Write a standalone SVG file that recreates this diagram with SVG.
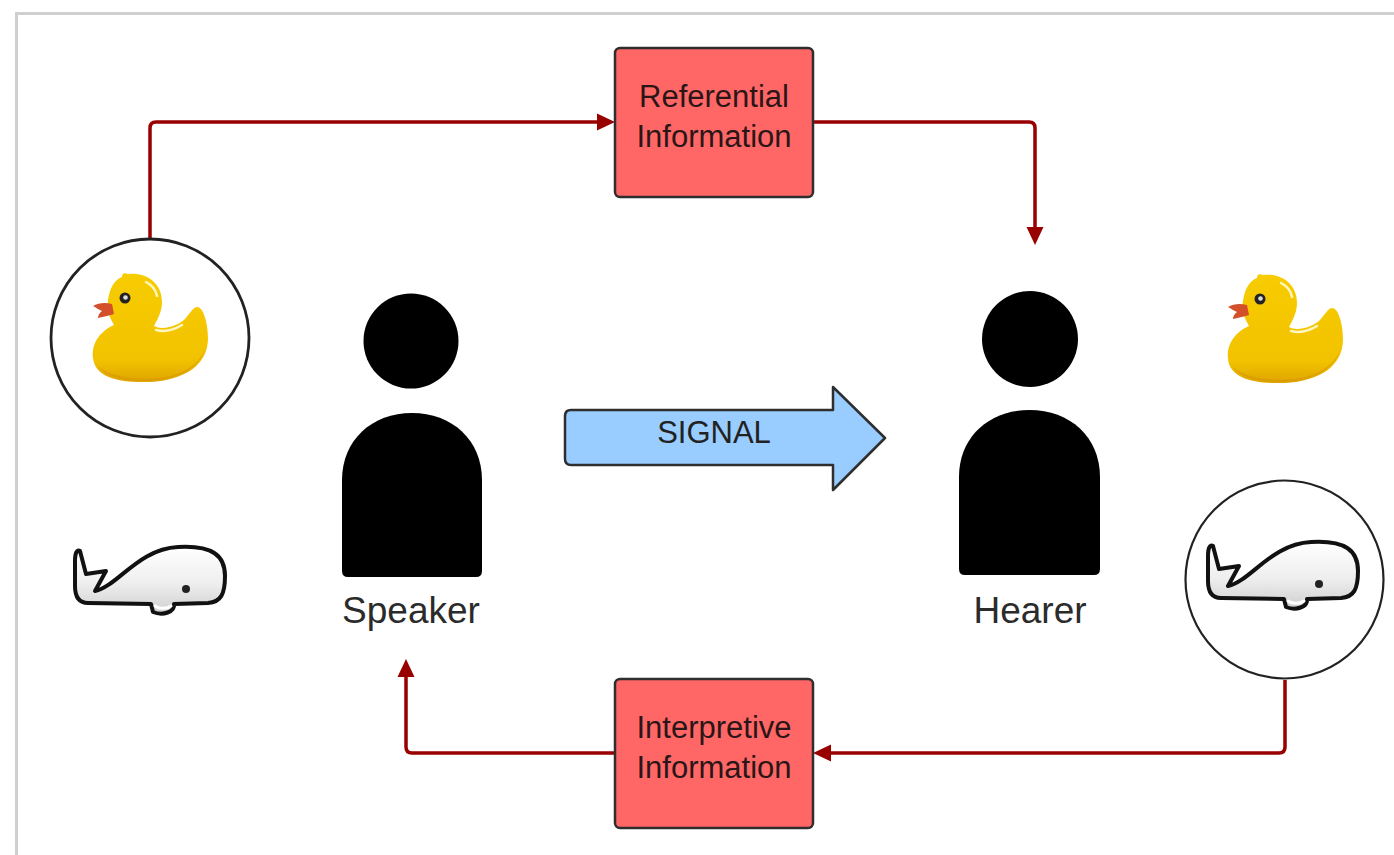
<svg xmlns="http://www.w3.org/2000/svg" width="1394" height="855" viewBox="0 0 1394 855">
  <style>
    .frame { fill: none; stroke: #cfcfcf; stroke-width: 3; }
    .info { fill: #ff6666; stroke: #2e2e2e; stroke-width: 2.5; }
    .info-text { font-family: "Liberation Sans", Arial, sans-serif; font-size: 31px; fill: #2a1616; text-anchor: middle; }
    .label { font-family: "Liberation Sans", Arial, sans-serif; font-size: 37px; fill: #2b2b2b; text-anchor: middle; }
    .signal { fill: #99ccff; stroke: #2e2e2e; stroke-width: 2.5; stroke-linejoin: round; }
    .signal-text { font-family: "Liberation Sans", Arial, sans-serif; font-size: 31px; fill: #222; text-anchor: middle; }
    .ring { fill: #ffffff; stroke: #222; }
    .person { fill: #000; }
    .flow { fill: none; stroke: #990000; stroke-width: 3.5; stroke-linejoin: round; }
  </style>
  <defs>
    <marker id="head" viewBox="0 0 18 18" refX="0" refY="9" markerWidth="18" markerHeight="18" markerUnits="userSpaceOnUse" orient="auto">
      <path d="M0 0.5 L18 9 L0 17.5 Z" fill="#990000"/>
    </marker>
    <linearGradient id="whaleShade" x1="0" y1="0" x2="0" y2="1">
      <stop offset="0" stop-color="#ffffff"/>
      <stop offset="0.55" stop-color="#eeeeee"/>
      <stop offset="1" stop-color="#cfcfcf"/>
    </linearGradient>
    <linearGradient id="duckShade" x1="0" y1="0" x2="0" y2="1">
      <stop offset="0" stop-color="#f7cc00"/>
      <stop offset="0.8" stop-color="#f2c200"/>
      <stop offset="1" stop-color="#dfa400"/>
    </linearGradient>
    <!-- rubber duck, 118 x 113 -->
    <g id="duck">
      <path d="M38 4 C55 2 72 12 72 32 C72 42 67 50 64 56 C70 60 84 58 94 50 C100 44 102 38 107 37 C114 37 118 55 118 68 C118 95 95 110 60 112 C30 113 5 108 3 88 C1 72 12 60 24 55 C20 48 16 40 18 30 C20 16 26 9 32 7 C32 4 34 2 38 4 Z" fill="url(#duckShade)"/>
      <path d="M8 96 C20 108 50 110 70 108 C95 105 112 92 116 76 C112 96 92 109 60 111 C32 112 14 106 8 96 Z" fill="#d99a00" opacity="0.7"/>
      <path d="M56 12 C62 15 66 20 67 26" fill="none" stroke="#fff6c0" stroke-width="2.5" stroke-linecap="round"/>
      <path d="M66 60 C74 62 84 60 92 55" fill="none" stroke="#fff6c0" stroke-width="2.5" stroke-linecap="round"/>
      <path d="M22 34 C15 32 8 33 3 36 C7 38 9 40 12 41 C9 43 8 46 8 48 C14 47 20 45 24 44 Z" fill="#d4502a"/>
      <circle cx="35" cy="28" r="5.5" fill="#222"/>
      <circle cx="35.5" cy="27.5" r="2.3" fill="#dddddd"/>
    </g>
    <!-- whale, 155 x 70 -->
    <g id="whale">
      <path d="M7 5 L13 28 L33 25 L22 45 C45 40 65 3 105 1 C140 -1 152 10 152 30 C152 48 148 56 135 57 L101 58 C102 66 90 70 80 66 L78 58 L15 57 C5 57 2 50 2 40 L2 15 C2 7 4 3 7 5 Z" fill="url(#whaleShade)" stroke="#111" stroke-width="4" stroke-linejoin="round"/>
      <path d="M82 60 C86 63 94 63 98 60" fill="none" stroke="#ffffff" stroke-width="3" stroke-linecap="round"/>
      <circle cx="113" cy="43" r="4" fill="#222"/>
    </g>
  </defs>

  <rect width="1394" height="855" fill="#ffffff"/>
  <path class="frame" d="M16.5 855 V13.5 H1394"/>

  <!-- information flow connectors -->
  <g id="connectors">
    <path class="flow" d="M150 239 V128 Q150 122 156 122 H597" marker-end="url(#head)"/>
    <path class="flow" d="M813 122 H1029 Q1035 122 1035 128 V227" marker-end="url(#head)"/>
    <path class="flow" d="M1285 680 V747 Q1285 753 1279 753 H831" marker-end="url(#head)"/>
    <path class="flow" d="M615 753 H412 Q406 753 406 747 V677" marker-end="url(#head)"/>
  </g>

  <g id="referential-information">
    <rect class="info" x="615" y="48" width="198" height="149" rx="5"/>
    <text class="info-text" x="714" y="107">Referential</text>
    <text class="info-text" x="714" y="147">Information</text>
  </g>

  <g id="interpretive-information">
    <rect class="info" x="615" y="679" width="198" height="149" rx="5"/>
    <text class="info-text" x="714" y="738">Interpretive</text>
    <text class="info-text" x="714" y="778">Information</text>
  </g>

  <g id="speaker">
    <circle class="person" cx="411" cy="341" r="47.5"/>
    <path class="person" d="M342 480 C342 440 372 413 412 413 C452 413 482 440 482 480 V571 Q482 577 476 577 H348 Q342 577 342 571 Z"/>
    <text class="label" x="411" y="623">Speaker</text>
  </g>

  <g id="hearer">
    <circle class="person" cx="1030" cy="339" r="48"/>
    <path class="person" d="M959 477 C959 437 989 410 1029.5 410 C1070 410 1100 437 1100 477 V569 Q1100 575 1094 575 H965 Q959 575 959 569 Z"/>
    <text class="label" x="1030" y="623">Hearer</text>
  </g>

  <g id="signal">
    <path class="signal" d="M571 410 H833 V387 L885 438 L833 490 V465 H571 Q565 465 565 459 V416 Q565 410 571 410 Z"/>
    <text class="signal-text" x="714" y="443">SIGNAL</text>
  </g>

  <g id="speaker-duck">
    <circle class="ring" cx="150" cy="338" r="99" stroke-width="2.8"/>
    <use href="#duck" x="90" y="270"/>
  </g>

  <g id="speaker-whale">
    <use href="#whale" x="73" y="546"/>
  </g>

  <g id="hearer-duck">
    <use href="#duck" x="1225" y="271"/>
  </g>

  <g id="hearer-whale">
    <circle class="ring" cx="1284.5" cy="579.5" r="99" stroke-width="2.2"/>
    <use href="#whale" x="1206" y="541"/>
  </g>
</svg>
